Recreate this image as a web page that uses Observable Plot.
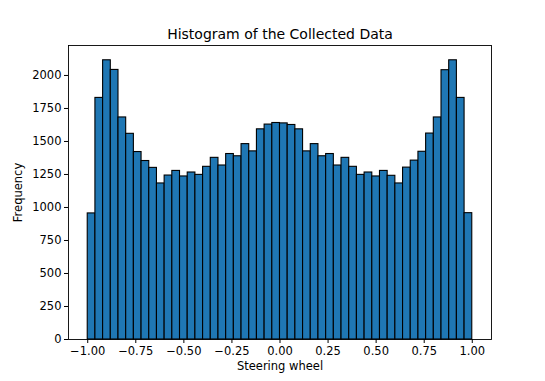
<!DOCTYPE html>
<html>
<head>
<meta charset="utf-8">
<script src="https://cdn.jsdelivr.net/npm/d3@7"></script>
<script src="https://cdn.jsdelivr.net/npm/@observablehq/plot@0.6"></script>
<style>
  html, body { margin: 0; padding: 0; background: #fff; }
  #chart { width: 545px; height: 381px; }
</style>
</head>
<body>
<div id="chart"></div>
<script>
// Histogram: 50 bins from -1 to 1
const binStart = -1.0;
const binWidth = 0.04;
const counts = [
  955, 1830, 2115, 2042, 1682, 1558, 1420, 1352, 1300, 1182,
  1242, 1277, 1235, 1265, 1247, 1308, 1376, 1318, 1405, 1388,
  1480, 1425, 1592, 1628, 1640, 1637, 1625, 1592, 1425, 1480,
  1388, 1405, 1318, 1376, 1308, 1247, 1265, 1235, 1277, 1240,
  1182, 1302, 1355, 1422, 1560, 1682, 2040, 2115, 1830, 957
];
const xTicks = [-1.0, -0.75, -0.5, -0.25, 0.0, 0.25, 0.5, 0.75, 1.0];
const yTicks = [0, 250, 500, 750, 1000, 1250, 1500, 1750, 2000];
const titleText = "Histogram of the Collected Data";
const xLabel = "Steering wheel";
const yLabel = "Frequency";

const bins = counts.map((c, i) => ({
  x1: binStart + i * binWidth,
  x2: binStart + (i + 1) * binWidth,
  count: c
}));

const chart = Plot.plot({
  width: 545,
  height: 381,
  marginLeft: 68,
  marginRight: 54,
  marginTop: 45,
  marginBottom: 42,
  style: { fontFamily: "DejaVu Sans", fontSize: "11.5px", color: "#000", background: "#fff" },
  x: { domain: [-1.1, 1.1] },
  y: { domain: [0, 2227] },
  marks: [
    Plot.rectY(bins, { x1: "x1", x2: "x2", y: "count", fill: "#1f77b4", stroke: "#000", strokeWidth: 1.1 }),
    Plot.frame({ stroke: "#000", strokeWidth: 0.9 }),
    Plot.axisX({ ticks: xTicks, tickFormat: d3.format(".2f"), tickSize: 4, tickPadding: 3, label: null, fontSize: 11.5 }),
    Plot.axisY({ ticks: yTicks, tickFormat: d3.format("d"), tickSize: 4, tickPadding: 3, label: null, fontSize: 11.5 }),
    Plot.text([titleText], { frameAnchor: "top", dy: -11, lineAnchor: "middle", fontSize: 14, fill: "#000" }),
    Plot.text([xLabel], { frameAnchor: "bottom", dy: 27, lineAnchor: "middle", fontSize: 11.5, fill: "#000" }),
    Plot.text([yLabel], { frameAnchor: "left", dx: -50, rotate: -90, lineAnchor: "middle", textAnchor: "middle", fontSize: 11.5, fill: "#000" })
  ]
});
document.getElementById("chart").appendChild(chart);
</script>
</body>
</html>
